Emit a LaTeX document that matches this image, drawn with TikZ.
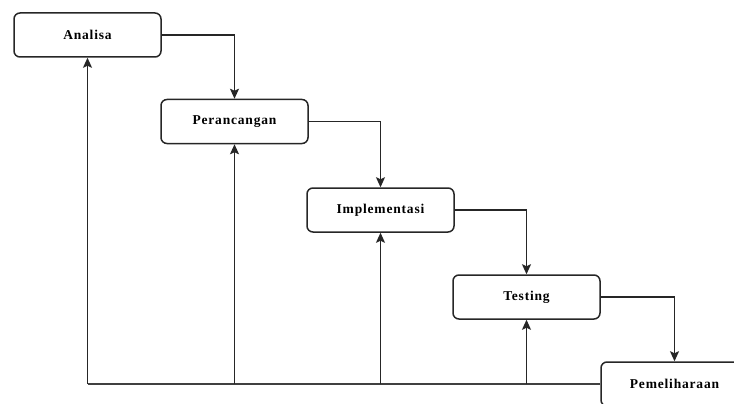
\documentclass[tikz,border=0pt]{standalone}
\usepackage{fontspec}
\setmainfont{Liberation Serif}
\usetikzlibrary{arrows.meta}
\newfontfamily\boxfont[LetterSpace=6]{Liberation Serif}
\tikzset{
  stage/.style={draw=black!85, line width=1.5pt, rounded corners=6pt, minimum width=147pt, minimum height=44pt, inner sep=0pt, font=\boxfont\bfseries\fontsize{13.5}{15}\selectfont, text=black},
  flow/.style={draw=black!85, line width=1.5pt, -{Stealth[length=10pt,width=9pt,inset=2pt]}},
  line/.style={draw=black!75, line width=1.5pt}
}
\begin{document}
\begin{tikzpicture}[x=1pt,y=-1pt]
\useasboundingbox (0,0) rectangle (734,404);
\node[stage] (a) at (87.5,35) {Analisa};
\node[stage] (p) at (234.5,121.5) {Perancangan};
\node[stage] (i) at (380.5,210) {Implementasi};
\node[stage] (t) at (526.5,297) {Testing};
\node[stage] (m) at (674.5,384) {Pemeliharaan};
\draw[flow] (a.east) -| (p.north);
\draw[flow] (p.east) -| (i.north);
\draw[flow] (i.east) -| (t.north);
\draw[flow] (t.east) -| (m.north);
\coordinate (c0) at (a.south |- m.west);
\coordinate (c1) at (p.south |- m.west);
\coordinate (c2) at (i.south |- m.west);
\coordinate (c3) at (t.south |- m.west);
\draw[line] (m.west) -- (c0);
\draw[flow] (c0) -- (a.south);
\draw[flow] (c1) -- (p.south);
\draw[flow] (c2) -- (i.south);
\draw[flow] (c3) -- (t.south);
\end{tikzpicture}
\end{document}
